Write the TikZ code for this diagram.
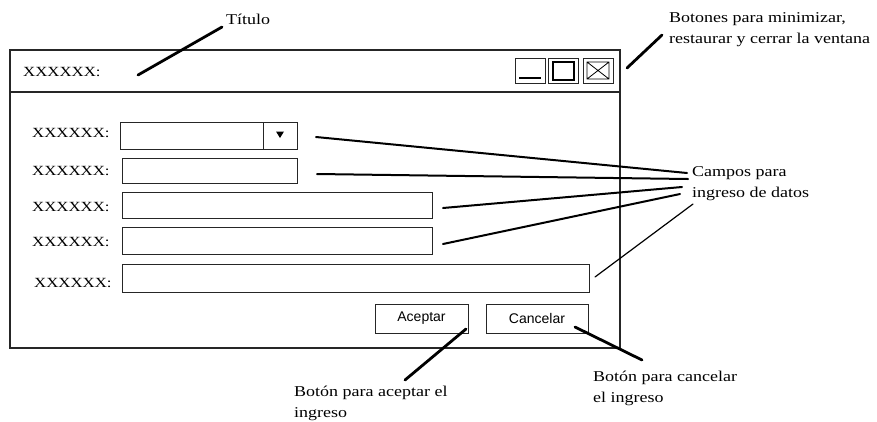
\documentclass[tikz,border=0pt]{standalone}
\usepackage{fontspec}
\setmainfont{Liberation Serif}
\newfontfamily\annot[FakeStretch=1.2]{Liberation Serif}
\newfontfamily\btnfont{Liberation Sans}
\begin{document}
\begin{tikzpicture}[x=1pt,y=-1pt,
  frame/.style={draw=black!85,line width=1.1pt},
  box/.style={draw=black!85,line width=1pt},
  lbl/.style={inner sep=0pt,anchor=west,font=\annot\fontsize{14}{16}\selectfont},
  note/.style={inner sep=0pt,anchor=north west,align=left,font=\annot\fontsize{15}{21}\selectfont},
  btn/.style={draw=black!85,line width=1pt,inner sep=0pt,font=\btnfont\fontsize{14}{16}\selectfont},
  bold/.style={line width=2.8pt,line cap=round},
  mid/.style={line width=2pt,line cap=round},
  thin/.style={line width=1.2pt,line cap=round}]
\useasboundingbox (0,0) rectangle (877,421);
% window
\draw[frame] (10,50) rectangle (620,348);
\draw[frame] (10,92) -- (620,92);
\node[lbl] (title) at (23,72) {XXXXXX:};
% control buttons
\node[box,minimum width=30pt,minimum height=25pt,inner sep=0pt] (minb) at (530,70.5) {};
\draw[line width=1.2pt] (519,78) -- (541,78);
\node[box,minimum width=30pt,minimum height=25pt,inner sep=0pt] (maxb) at (563,70.5) {};
\draw[line width=1.2pt] (553,62) rectangle (574,80);
\node[box,minimum width=30pt,minimum height=25pt,inner sep=0pt] (closeb) at (598,70.5) {};
\draw[line width=0.8pt] (587,62) rectangle (609,79) (587,62) -- (609,79) (587,79) -- (609,62);
% fields
\node[lbl] (l1) at (32,133) {XXXXXX:};
\node[lbl] (l2) at (32,171) {XXXXXX:};
\node[lbl] (l3) at (32,207) {XXXXXX:};
\node[lbl] (l4) at (32,242) {XXXXXX:};
\node[lbl] (l5) at (34,283) {XXXXXX:};
\draw[box] (120,122) rectangle (297,149);
\draw[box] (263,122) -- (263,149);
\fill (276,131.5) -- (284,131.5) -- (280,138) -- cycle;
\draw[box] (122,158) rectangle (297,183);
\draw[box] (122,192) rectangle (432,218);
\draw[box] (122,227) rectangle (432,254);
\draw[box] (122,264) rectangle (589,292);
% buttons
\node[btn,minimum width=93pt,minimum height=29pt] (ok) at (421.5,318.5) {Aceptar};
\node[btn,minimum width=102pt,minimum height=29pt] (cancel) at (537,318.5) {Cancelar};
% annotations
\node[note,anchor=west] (ntitle) at (226,19) {Título};
\node[note] (nbtn) at (669,12) {Botones para minimizar,\\restaurar y cerrar la ventana};
\node[note] (nfields) at (692,166) {Campos para\\ingreso de datos};
\node[note] (nok) at (294,386) {Botón para aceptar el\\ingreso};
\node[note] (ncancel) at (593,371) {Botón para cancelar\\el ingreso};
% connector end points
\coordinate (t1) at (138,75); \coordinate (t2) at (222,27);
\coordinate (b1) at (627,68); \coordinate (b2) at (662,35);
\coordinate (f1a) at (316,137); \coordinate (f1b) at (687,173);
\coordinate (f2a) at (317,174); \coordinate (f2b) at (688,179);
\coordinate (f3a) at (443,208); \coordinate (f3b) at (682,187);
\coordinate (f4a) at (443,244); \coordinate (f4b) at (680,194);
\coordinate (f5a) at (595,277); \coordinate (f5b) at (693,204);
\coordinate (o1) at (466,329); \coordinate (o2) at (405,380);
\coordinate (c1) at (575,327); \coordinate (c2) at (642,360);
\draw[bold] (t1) -- (t2);
\draw[bold] (b1) -- (b2);
\draw[mid] (f1a) -- (f1b);
\draw[mid] (f2a) -- (f2b);
\draw[mid] (f3a) -- (f3b);
\draw[mid] (f4a) -- (f4b);
\draw[thin] (f5a) -- (f5b);
\draw[bold] (o1) -- (o2);
\draw[bold] (c1) -- (c2);
\end{tikzpicture}
\end{document}
